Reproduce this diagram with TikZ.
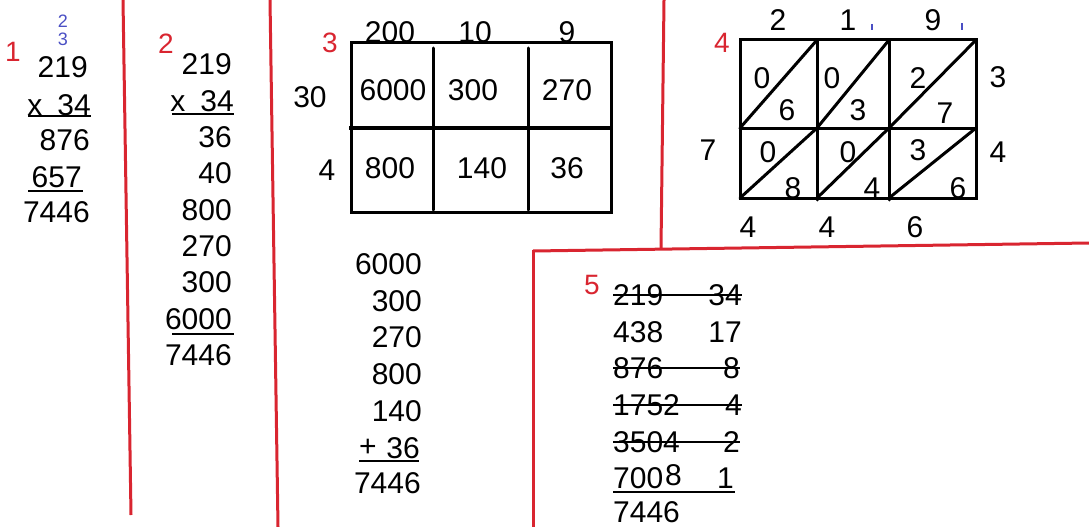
\documentclass[tikz,border=0pt]{standalone}
\usepackage{fontspec}
\setmainfont{Liberation Sans}
\definecolor{MWRed}{HTML}{D92530}
\definecolor{MWBlue}{HTML}{4A4FC4}
\tikzset{
  num/.style={inner sep=0pt,font=\fontsize{30}{32}\selectfont},
  tag/.style={inner sep=0pt,text=MWRed,font=\fontsize{28}{30}\selectfont},
  carry/.style={inner sep=0pt,text=MWBlue,font=\fontsize{18}{19}\selectfont},
  divider/.style={MWRed,line width=3pt},
  gridline/.style={line width=3pt,line cap=round},
  rule/.style={line width=2pt},
}
\begin{document}
\begin{tikzpicture}[x=1pt,y=-1pt]
\useasboundingbox[fill=white] (0,0) rectangle (1089,527);
% red dividers
\draw[divider] (123,0) -- (131,515);
\draw[divider] (270,0) -- (278,527);
\draw[divider] (664,0) -- (661,248);
\draw[divider] (533,251) -- (1089,243);
\draw[divider] (533,250) -- (533,527);

% 1: column method
\node[tag] (t1) at (13,52) {1};
\node[carry] (c1a) at (63,21) {2};
\node[carry] (c1b) at (63,39) {3};
\node[num,anchor=east] (a1) at (88,67) {219};
\node[num,anchor=east] (a2) at (91,105) {x\hspace{0.5em}34};
\node[num,anchor=east] (a3) at (90,140) {876};
\node[num,anchor=east] (a4) at (82,177) {657};
\node[num,anchor=east] (a5) at (90,212) {7446};
\draw[rule] (28,116) -- (91,116);
\draw[rule] (28,191) -- (83,191);

% 2: partial products
\node[tag] (t2) at (166,44) {2};
\node[num,anchor=east] (b1) at (232,64) {219};
\node[num,anchor=east] (b2) at (234,101) {x\hspace{0.5em}34};
\foreach \v [count=\i from 3] in {36,40,800,270,300,6000,7446}
  \node[num,anchor=east] (b\i) at (232,{137+36.4*(\i-3)}) {\v};
\draw[rule] (172,114) -- (234,114);
\draw[rule] (172,334) -- (234,334);

% 3: box method
\node[tag] (t3) at (330,43) {3};
\node[num] (h1) at (390,32) {200};
\node[num] (h2) at (475,32) {10};
\node[num] (h3) at (567,32) {9};
\node[num] (v1) at (310,97) {30};
\node[num] (v2) at (327,170) {4};
\draw[gridline] (351,43) rectangle (611,212);
\draw[line width=4.5pt] (349,128) -- (613,128);
\draw[gridline] (433,48) -- (433,210);
\draw[gridline] (528,48) -- (528,210);
\node[num] (p1) at (393,90) {6000};
\node[num] (p2) at (473,90) {300};
\node[num] (p3) at (567,90) {270};
\node[num] (p4) at (390,168) {800};
\node[num] (p5) at (482,168) {140};
\node[num] (p6) at (567,168) {36};
\foreach \v [count=\i] in {6000,300,270,800,140}
  \node[num,anchor=east] (s\i) at (422,{264+36.7*(\i-1)}) {\v};
\node[num,anchor=west] (s6a) at (359,448) {+};
\node[num,anchor=east] (s6) at (420,448) {36};
\node[num,anchor=east] (s7) at (421,483) {7446};
\draw[rule] (359,461) -- (419,461);

% 4: lattice
\node[tag] (t4) at (722,43) {4};
\node[num] (g1) at (778,20) {2};
\node[num] (g2) at (848,20) {1};
\node[num] (g3) at (933,20) {9};
\draw[MWBlue,line width=1.3pt] (872,24) -- (872,30);
\draw[MWBlue,line width=1.3pt] (962,23) -- (962,30);
\node[num] (r1) at (998,77) {3};
\node[num] (r2) at (998,152) {4};
\node[num] (l1) at (708,150) {7};
\node[num] (d1) at (748,227) {4};
\node[num] (d2) at (827,227) {4};
\node[num] (d3) at (915,227) {6};
\draw[gridline] (740,40) rectangle (976,198);
\draw[gridline] (740,128) -- (976,128);
\draw[gridline] (817,40) -- (817,200);
\draw[gridline] (889,40) -- (889,200);
\foreach \xa/\xb in {740/817,817/889,889/976}
  \foreach \ya/\yb in {128/40,198/128}
    \draw[gridline] (\xa,\ya) -- (\xb,\yb);
\node[num] (q1) at (762,78) {0};
\node[num] (q2) at (787,110) {6};
\node[num] (q3) at (832,78) {0};
\node[num] (q4) at (858,110) {3};
\node[num] (q5) at (918,78) {2};
\node[num] (q6) at (945,113) {7};
\node[num] (q7) at (768,152) {0};
\node[num] (q8) at (793,188) {8};
\node[num] (q9) at (848,152) {0};
\node[num] (q10) at (872,188) {4};
\node[num] (q11) at (918,150) {3};
\node[num] (q12) at (958,188) {6};

% 5: halving and doubling
\node[tag] (t5) at (592,285) {5};
\node[num,anchor=west] (e1) at (613,295) {219};
\node[num,anchor=east] (f1) at (742,295) {34};
\node[num,anchor=west] (e2) at (613,332) {438};
\node[num,anchor=east] (f2) at (742,332) {17};
\node[num,anchor=west] (e3) at (613,368) {876};
\node[num,anchor=east] (f3) at (740,368) {8};
\node[num,anchor=west] (e4) at (613,405) {1752};
\node[num,anchor=east] (f4) at (742,405) {4};
\node[num,anchor=west] (e5) at (613,442) {3504};
\node[num,anchor=east] (f5) at (740,442) {2};
\node[num,anchor=west] (e6) at (613,478) {700};
\node[num,anchor=west] (e6b) at (665,475) {8};
\node[num,anchor=east] (f6) at (734,478) {1};
\node[num,anchor=west] (e7) at (613,512) {7446};
\foreach \i in {1,3,4,5}
  \draw[line width=1.6pt] (e\i.west) -- (f\i.east);
\draw[rule] (613,492) -- (735,492);
\end{tikzpicture}
\end{document}
